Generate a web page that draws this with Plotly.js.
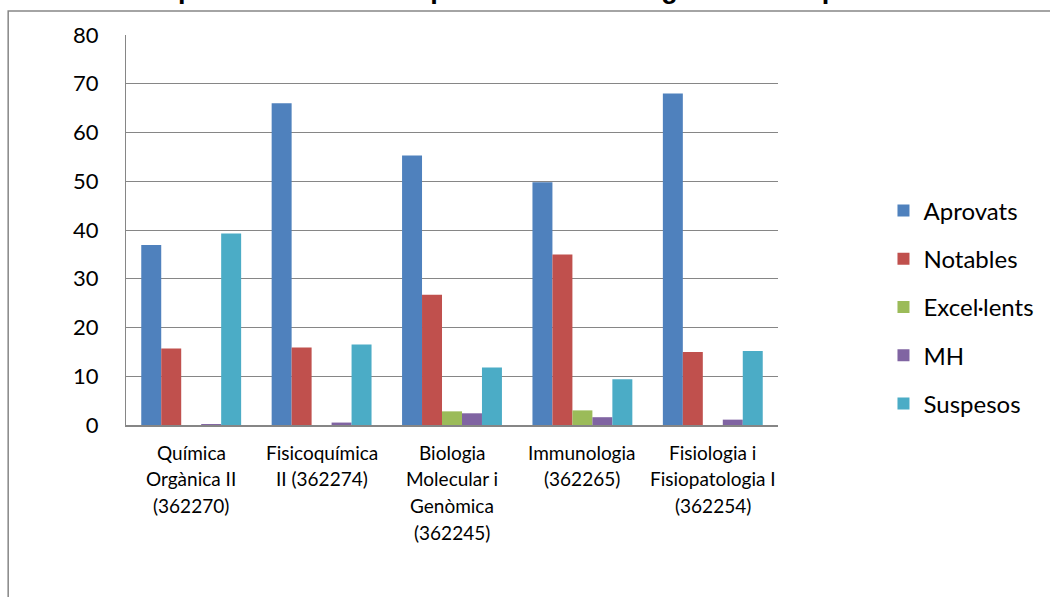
<!DOCTYPE html>
<html>
<head>
<meta charset="utf-8">
<script src="https://cdn.plot.ly/plotly-3.0.1.min.js"></script>
<style>html,body{margin:0;padding:0;background:#fff;}#chart{width:1050px;height:597px;}</style>
</head>
<body>
<div id="chart"></div>
<script>
const titleText = 'Gràfic 3. Representació de les qualificacions assignatures de primer semestre de cinquè curs';
const categories = ['Química Orgànica II (362270)', 'Fisicoquímica II (362274)', 'Biologia Molecular i Genòmica (362245)', 'Immunologia (362265)', 'Fisiologia i Fisiopatologia I (362254)'];
const labelLines = [
  ['Química', 'Orgànica II', '(362270)'],
  ['Fisicoquímica', 'II (362274)'],
  ['Biologia', 'Molecular i', 'Genòmica', '(362245)'],
  ['Immunologia', '(362265)'],
  ['Fisiologia i', 'Fisiopatologia I', '(362254)']
];
const seriesNames = ['Aprovats', 'Notables', 'Excel·lents', 'MH', 'Suspesos'];
const aprovats = [36.9, 66.0, 55.3, 49.8, 68.0];
const notables = [15.7, 15.9, 26.7, 35.0, 15.0];
const excellents = [0, 0, 2.8, 3.0, 0];
const mh = [0.2, 0.5, 2.4, 1.6, 1.1];
const suspesos = [39.3, 16.5, 11.8, 9.4, 15.2];
const yTicks = [0, 10, 20, 30, 40, 50, 60, 70, 80];

const colors = ['#4F81BD', '#C0504D', '#9BBB59', '#8064A2', '#4BACC6'];
const values = [aprovats, notables, excellents, mh, suspesos];

const traces = seriesNames.map((name, i) => ({
  type: 'bar',
  name: name,
  x: categories,
  y: values[i],
  marker: {color: colors[i], line: {width: 0}},
  legendgroup: 'g' + i,
  hoverinfo: 'x+y+name'
}));

const annotations = [];
categories.forEach((c, ci) => {
  labelLines[ci].forEach((line, li) => {
    annotations.push({
      x: c, y: 0, xref: 'x', yref: 'y',
      text: line, showarrow: false,
      xanchor: 'center', yanchor: 'middle',
      yshift: -(27 + li * 26.7),
      font: {family: 'Lato, "Open Sans", sans-serif', size: 19, color: '#000'}
    });
  });
});

const L = 126, R = 779, T = 35, B = 425;
const pw = R - L, ph = B - T;
const px = v => (v - L) / pw;
const py = v => (B - v) / ph;

const layout = {
  width: 1050, height: 597,
  margin: {l: L, r: 1050 - R, t: T, b: 597 - B, pad: 0},
  paper_bgcolor: '#fff', plot_bgcolor: '#fff',
  font: {family: 'Lato, "Open Sans", sans-serif', color: '#000'},
  title: {
    text: '<b>' + titleText + '</b>',
    font: {family: '"Liberation Sans", Arial, sans-serif', size: 27, color: '#000'},
    xref: 'container', yref: 'container',
    x: 28 / 1050, xanchor: 'left',
    y: 1, yanchor: 'bottom',
    pad: {t: 0, b: 2, l: 0, r: 0}
  },
  barmode: 'group',
  bargap: 0.234,
  bargroupgap: 0,
  showlegend: true,
  legend: {
    x: 1.16, xanchor: 'left', y: 0.3026, yanchor: 'middle',
    font: {family: 'Lato, "Open Sans", sans-serif', size: 24, color: '#000'},
    tracegroupgap: 14,
    bgcolor: 'rgba(0,0,0,0)',
    itemclick: false
  },
  xaxis: {
    type: 'category',
    showticklabels: false,
    showgrid: false,
    showline: true, linecolor: '#868686', linewidth: 2,
    ticks: '', zeroline: false,
    fixedrange: true
  },
  yaxis: {
    range: [0, 80],
    tickvals: yTicks,
    ticktext: yTicks.map(String),
    tickfont: {family: 'Lato, "Open Sans", sans-serif', size: 22, color: '#000'},
    showgrid: true, gridcolor: '#868686', gridwidth: 1,
    showline: true, linecolor: '#868686', linewidth: 1,
    zeroline: false, ticks: '',
    ticklabelstandoff: 22,
    fixedrange: true
  },
  annotations: annotations,
  shapes: [{
    type: 'rect', xref: 'paper', yref: 'paper',
    x0: px(8), x1: px(1070), y0: py(620), y1: py(11),
    line: {color: '#868686', width: 1.5},
    fillcolor: 'rgba(0,0,0,0)', layer: 'above'
  }]
};

Plotly.newPlot('chart', traces, layout, {displayModeBar: false, staticPlot: true});
</script>
</body>
</html>
